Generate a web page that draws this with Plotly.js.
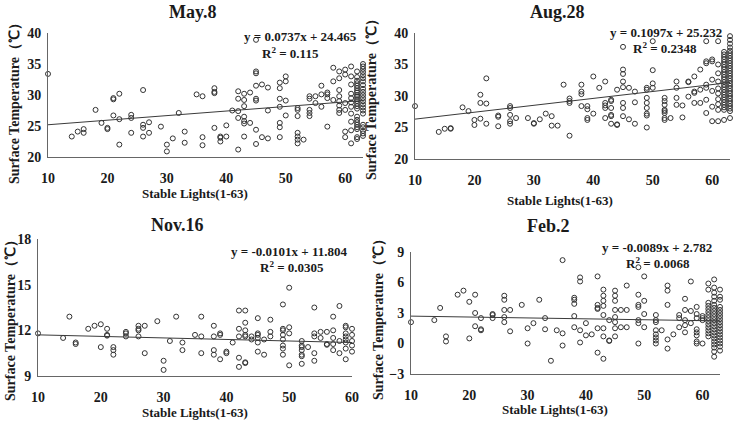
<!DOCTYPE html>
<html><head><meta charset="utf-8">
<script src="https://cdn.plot.ly/plotly-3.0.1.min.js"></script>
<style>html,body{margin:0;padding:0;background:#fff}#c{width:733px;height:422px}</style>
</head><body><div id="c"></div>
<script>
// ---- Data ----
const panelTitles = ["May.8", "Aug.28", "Nov.16", "Feb.2"];
const fitSlope = [0.0737, 0.1097, -0.0101, -0.0089];
const fitIntercept = [24.465, 25.232, 11.804, 2.782];
const fitR2 = ["0.115", "0.2348", "0.0305", "0.0068"];
const fitXStart = [10, 10, 10, 10];
const fitXEnd = [63, 63, 60, 63];

const mayLights = [10,14,15,16,18,19,20,21,22,24,26,27,29,30,31,32,33,35,36,38,39,40,41,42,43,44,45,46,47,49,50,52,53,54,55,56,57,58,59,60,61,62,63];
const mayTemps = [
 [33.4],[23.3],[24.1],[24.5,23.9],[27.6],[25.5],[24.7,24.5],[29.5,29.3,26.7],[30.2,26.1,22.0],
 [26.8,26.3,23.9],[30.8,25.2,24.7,23.3],[25.6,23.9],[24.9],[22.0,20.9],[23.0],[27.1],[24.1,22.3],
 [30.1],[29.8,23.2,21.9],[31.1,30.5,30.3,24.7],[23.3,23.1,22.5],[25.1,23.3],[27.5],
 [30.6,29.4,27.4,26.3,21.2],[30.2,29.2,28.2,26.5,25.8,25.4,23.3],[30.4,25.5],
 [38.9,33.8,33.5,31.5,29.4,29.1,24.4,22.1],[31.7,23.2],[31.2,27.5,23.0],
 [32.0,31.1,29.4,28.1,25.5,24.8,23.2],[33.0,32.2,29.1,26.7],[27.9,27.6,26.6,23.9,23.3,22.8,22.2],
 [22.8],[29.8,29.4,27.6,27.1,26.6],[29.8,28.7],[31.5,30.1,28.1],[30.4,30.1,29.5,24.9],
 [34.4,32.2,29.2],[33.8,32.7,30.8,29.8,29.0,28.3,27.6,27.1],[34.1,33.3,28.7,27.6,24.1,23.2],
 [34.6,33.0,31.7,30.2,29.5,28.8,28.1,27.0,25.7,24.3,22.2],
 [33.8,32.9,32.3,31.9,31.5,31.1,30.7,30.4,30.0,29.7,29.3,29.0,28.6,28.2,27.8,26.5,26.0,25.6,25.2,24.8,24.5,23.2,22.9],
 [35.0,34.6,34.2,33.7,33.2,32.7,32.2,31.6,31.0,30.5,30.0,29.5,29.0,28.5,28.0,27.5,27.0,25.2,24.8,24.2,23.8,23.4]
];

const augLights = [10,14,15,16,18,19,20,21,22,24,26,27,29,30,31,32,33,34,35,36,38,39,40,41,42,43,44,45,46,47,49,50,52,53,54,55,56,57,58,59,60,61,62,63];
const augTemps = [
 [28.4],[24.3],[24.8],[24.9,24.8],[28.2],[27.6],[26.2,25.4],[30.2,28.9,26.4],[32.8,28.8,25.6],
 [26.9,26.7,25.2],[28.4,28.1,27.0,26.0,25.6],[26.5],[26.5],[25.7,25.6],[26.3],[27.2],[26.8,25.3],
 [25.3],[31.8],[29.6,29.2,28.9,23.7],[31.8,30.7,30.3,28.4],[28.4,27.9,26.5,26.2],[33.1,27.2],
 [31.3],[32.3,28.9,28.5,28.1,26.5],[29.4,29.2,28.1,27.0,26.8,25.6],[31.0,25.5,25.4],
 [37.8,34.2,33.5,32.3,31.4,28.9,28.1,26.8],[31.3,26.3],[30.7,29.0,25.6],
 [31.3,31.0,29.7,28.9,28.1,27.2,26.9,25.0],[38.7,34.1,32.0,31.3],
 [29.7,29.2,28.6,27.8,27.6,27.3,26.5,26.2],[26.5],[32.3,31.3,29.7,28.6],[28.5,26.6],
 [32.3,32.2,29.9],[33.1,30.7,30.5,28.9],[34.2,31.0,28.9],[38.7,35.5,35.2,31.8,31.3,29.4,27.3],
 [35.8,35.5,32.6,30.8,28.3,26.0],[38.7,35.0,33.6,32.3,31.2,30.4,29.5,28.7,27.8,26.0],
 [37.0,36.6,36.2,35.8,35.4,35.0,34.6,34.2,33.8,33.4,33.0,32.6,32.2,31.8,31.4,31.0,30.6,30.2,29.8,29.4,29.0,28.6,28.2,27.8,26.2],
 [39.5,38.9,38.3,37.7,37.2,36.8,36.4,36.0,35.6,35.2,34.8,34.4,34.0,33.6,33.2,32.8,32.4,32.0,31.6,31.2,30.8,30.4,30.0,29.6,29.2,28.8,28.4,28.0,27.6,26.5]
];

const novLights = [10,14,15,16,18,19,20,21,22,24,26,27,29,30,31,32,33,35,36,38,39,40,41,42,43,44,45,46,47,49,50,52,53,54,55,56,57,58,59,60];
const novTemps = [
 [11.8],[11.5],[12.9],[11.2,11.1],[12.1],[12.3],[12.4,10.9],[12.1,11.7,11.65],[10.9,10.7,10.4],
 [11.9,11.8,11.6],[12.3,12.1,12.0,11.6],[12.3,10.5],[12.6],[10.0,9.4],[11.3],[12.9],[11.2,10.7],
 [11.7],[12.9,11.6,10.5],[12.3,11.6,10.7,10.4],[11.8,11.7,10.1],[10.6,10.5],[11.2],
 [13.3,12.1,11.6,10.2,9.6],[13.3,12.5,12.0,11.7,11.6,9.9,9.85],[11.6,11.4],
 [12.8,11.8,11.7,11.5,11.2,10.6],[11.4,10.4],[12.7,11.9,11.6],
 [13.7,12.1,12.0,11.7,11.4,11.0,10.8,10.4],[14.8,12.2,11.8,9.7],[11.3,11.0,10.9,10.7,10.4,10.3,9.8],
 [10.9],[13.5,11.8,11.6,10.5,10.0],[11.9,11.5],[11.9,11.1,11.05],[12.9,12.0,11.5,11.1,10.7],
 [13.6,11.3,10.5],[12.3,12.2,11.8,11.6,11.4,11.2,10.8,10.1],[12.1,11.7,11.3,11.0,10.6]
];

const febLights = [10,14,15,16,18,19,20,21,22,24,26,27,29,30,31,32,33,34,35,36,38,39,40,41,42,43,44,45,46,47,49,50,52,53,54,55,56,57,58,59,60,61,62,63];
const febTemps = [
 [2.1],[2.3],[3.5],[0.7,0.2],[4.8],[5.2],[4.1,0.5],[4.8,3.0,1.7],[2.5,1.4,1.3],[2.9,2.8,2.5],
 [4.7,4.3,3.3,2.6,2.1],[3.3,1.2],[3.8],[1.5,0.0],[2.0],[4.3],[2.5,1.4],[-1.7],[1.3],[8.2,1.0,-0.2],
 [4.5,4.3,3.9,2.7,1.6],[6.5,6.1,1.3,0.1],[2.0,0.8],[0.9],[6.6,3.8,3.5,3.4,1.5,-0.9],
 [5.3,4.7,4.2,3.7,2.8,1.5,0.7,-1.5],[2.3,0.3,0.25],[5.2,4.7,4.2,3.3,2.6,2.1,1.5,0.7],[3.3,1.6],
 [5.7,3.3,1.6],[7.5,4.8,3.8,3.6,2.3,2.0,0.0],[6.6,4.2,2.9,1.6],[2.8,2.3,2.1,1.3,0.9,0.6,0.3,0.0],
 [1.3],[5.7,5.2,3.8,0.4,-0.5],[0.9],[2.8,2.5,1.6],[4.4,3.3,2.3,1.8,1.1],[6.1,3.2,2.0],
 [3.6,2.9,2.5,1.4,1.1,0.8,0.2,0.0],[2.7,2.5,2.3,0.0],
 [5.9,5.3,4.0,3.7,3.4,3.1,2.8,2.5,2.2,1.9,1.6,1.3,1.0,0.7],
 [6.3,5.5,5.0,4.6,4.2,3.8,3.5,3.2,2.9,2.6,2.3,2.0,1.7,1.4,1.1,0.8,0.5,0.2,-0.1,-0.4,-0.8,-1.3],
 [5.3,4.6,4.3,3.6,3.3,3.0,2.7,2.4,2.1,1.8,1.5,1.2,0.9,0.6,0.3,0.0,-0.3,-0.7]
];

const yRanges = [[20,40],[20,40],[9,18],[-3,9]];
const yDticks = [5,5,3,3];
const xRanges = [[10,63],[10,63],[10,60],[10,63]];

// ---- Build ----
const serif = "Liberation Serif, Times New Roman, serif";
const lights = [mayLights, augLights, novLights, febLights];
const temps = [mayTemps, augTemps, novTemps, febTemps];

function flatten(ls, ts) {
  const x = [], y = [];
  ls.forEach((l, i) => ts[i].forEach(v => { x.push(l); y.push(v); }));
  return {x, y};
}

const traces = [];
const axSuffix = ["", "2", "3", "4"];
for (let p = 0; p < 4; p++) {
  const d = flatten(lights[p], temps[p]);
  traces.push({
    type: "scatter", mode: "markers", x: d.x, y: d.y,
    xaxis: "x" + axSuffix[p], yaxis: "y" + axSuffix[p],
    marker: {symbol: "circle-open", size: 5, color: "#333", line: {width: 1, color: "#333"}},
    cliponaxis: false, showlegend: false, hoverinfo: "skip"
  });
  const fx = [fitXStart[p], fitXEnd[p]];
  traces.push({
    type: "scatter", mode: "lines", x: fx, y: fx.map(v => fitSlope[p] * v + fitIntercept[p]),
    xaxis: "x" + axSuffix[p], yaxis: "y" + axSuffix[p],
    line: {color: "#3a3a3a", width: 1}, showlegend: false, hoverinfo: "skip"
  });
}

const W = 733, H = 422;
// pixel boxes: [left, right, top, bottom]
const boxes = [[48, 363, 33, 157], [415, 730, 33, 159], [38, 352, 239, 376], [411, 720, 252, 374]];
const layout = {
  width: W, height: H, margin: {l: 0, r: 0, t: 0, b: 0},
  paper_bgcolor: "#fff", plot_bgcolor: "rgba(0,0,0,0)", showlegend: false,
  font: {family: serif, color: "#1a1a1a"}, annotations: []
};
const tickFont = {family: serif, size: 14, weight: 700, color: "#1a1a1a"};
for (let p = 0; p < 4; p++) {
  const b = boxes[p];
  layout["xaxis" + axSuffix[p]] = {
    domain: [b[0] / W, b[1] / W], range: xRanges[p], anchor: "y" + axSuffix[p],
    showgrid: false, zeroline: false, showline: true, linecolor: "#666", linewidth: 1,
    ticks: "", dtick: 10, tick0: 10, tickfont: tickFont, ticklabelstandoff: 8
  };
  layout["yaxis" + axSuffix[p]] = {
    domain: [1 - b[3] / H, 1 - b[2] / H], range: yRanges[p], anchor: "x" + axSuffix[p],
    showgrid: false, zeroline: false, showline: true, linecolor: "#666", linewidth: 1,
    ticks: "", dtick: yDticks[p], tick0: yRanges[p][0], tickfont: tickFont, ticklabelstandoff: 3
  };
}

function ann(text, x, y, size, angle) {
  layout.annotations.push({
    text: text, x: x / W, y: 1 - y / H, xref: "paper", yref: "paper",
    xanchor: "center", yanchor: "middle", showarrow: false, textangle: angle || 0,
    font: {family: serif, size: size, weight: 700, color: "#1a1a1a"}
  });
}
const titlePos = [[193, 12], [557, 12], [177, 225], [548, 226]];
const xTitlePos = [[195, 193], [560, 200], [195, 412], [555, 409]];
const yTitlePos = [[14, 100], [371, 96], [10, 317], [378, 316]];
const eqPos = [[300, 37, 290, 53], [666, 32, 665, 48], [289, 251, 292, 267], [657, 247, 658, 263]];
for (let p = 0; p < 4; p++) {
  ann(panelTitles[p], titlePos[p][0], titlePos[p][1], 18);
  ann("Stable Lights(1-63)", xTitlePos[p][0], xTitlePos[p][1], 13);
  ann("Surface Temperature（℃）", yTitlePos[p][0], yTitlePos[p][1], 14, -90);
  const s = fitSlope[p];
  const eq = "y = " + s.toFixed(4) + "x + " + fitIntercept[p].toFixed(3);
  ann(eq, eqPos[p][0], eqPos[p][1], 13);
  ann("R<sup>2</sup> = " + fitR2[p], eqPos[p][2], eqPos[p][3], 13);
}

Plotly.newPlot("c", traces, layout, {staticPlot: true, displayModeBar: false});
</script>
</body></html>
